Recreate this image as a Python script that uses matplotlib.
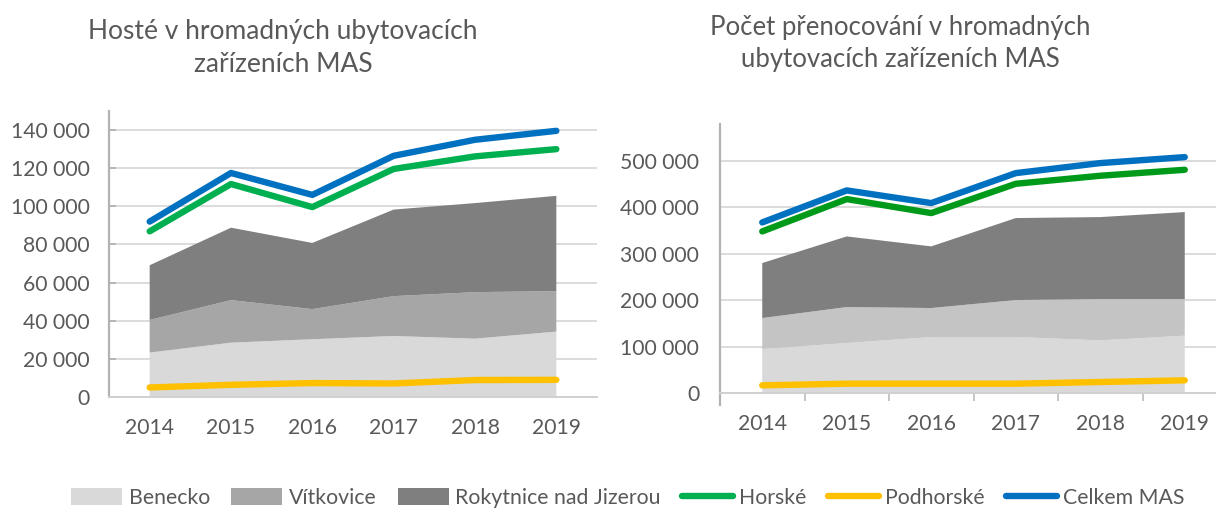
import numpy as np
import matplotlib.pyplot as plt
from matplotlib.ticker import FuncFormatter, FixedLocator
from matplotlib.patches import Patch
from matplotlib.lines import Line2D

plt.rcParams['font.family'] = ['Lato', 'DejaVu Sans']

years = ["2014", "2015", "2016", "2017", "2018", "2019"]

# Hosté (guests)
guests_benecko = [23300, 28500, 30300, 32000, 30600, 34300]
guests_vitkovice = [17100, 22300, 15800, 20900, 24400, 21200]
guests_rokytnice = [28700, 38000, 34700, 45400, 46700, 50000]
guests_horske = [86900, 111700, 99600, 119600, 126200, 130000]
guests_podhorske = [5000, 6400, 7300, 7100, 8900, 9000]
guests_celkem = [92000, 117500, 106000, 126500, 134900, 139600]

# Počet přenocování (overnight stays)
nights_benecko = [94800, 107800, 120700, 120700, 113500, 123600]
nights_vitkovice = [66800, 77500, 62500, 79700, 89100, 79000]
nights_rokytnice = [118600, 152300, 132900, 176800, 176700, 187500]
nights_horske = [348400, 418100, 387900, 451100, 468400, 481300]
nights_podhorske = [16500, 20100, 20100, 20100, 23700, 27300]
nights_celkem = [367800, 436800, 409500, 474100, 495700, 508600]

TXT = '#595959'
C_BEN = '#d9d9d9'
C_VIT = '#a6a6a6'
C_ROK = '#7f7f7f'
C_HOR = '#00b050'
C_POD = '#ffc000'
C_CEL = '#0070c0'

fmt = FuncFormatter(lambda v, p: f"{v:,.0f}".replace(",", " "))

W, H = 1216, 509
fig = plt.figure(figsize=(W / 100, H / 100), dpi=100)


def px_axes(x0, x1, y0, y1):
    return fig.add_axes([x0 / W, 1 - y1 / H, (x1 - x0) / W, (y1 - y0) / H])


def draw(ax, ben, vit, rok, hor, pod, cel, ymax, step, vit_col, hor_col):
    x = np.arange(len(years))
    ax.stackplot(x, ben, vit, rok, colors=[C_BEN, vit_col, C_ROK], lw=0, zorder=2)
    for vals, col in [(pod, C_POD), (hor, hor_col), (cel, C_CEL)]:
        ax.plot(x, vals, color=col, lw=4.6, solid_capstyle='round',
                solid_joinstyle='round', zorder=4)
    ax.set_xlim(-0.5, len(years) - 0.5)
    ax.set_ylim(0, ymax)
    ax.yaxis.set_major_locator(FixedLocator(np.arange(0, ymax, step)))
    ax.yaxis.set_major_formatter(fmt)
    ax.set_xticks(x)
    ax.set_xticklabels(years)
    ax.grid(axis='y', color='#d9d9d9', lw=1.3, zorder=0)
    ax.set_axisbelow(True)
    for s in ['top', 'right']:
        ax.spines[s].set_visible(False)
    ax.spines['left'].set_color('#b3b3b3')
    ax.spines['left'].set_linewidth(1.6)
    ax.spines['bottom'].set_color('#d0d0d0')
    ax.spines['bottom'].set_linewidth(1.4)
    ax.tick_params(axis='both', labelsize=15.2, labelcolor=TXT)
    ax.tick_params(axis='x', length=0, pad=15)
    ax.patch.set_alpha(0)


# left chart
ax1 = px_axes(109, 597, 111, 397)
draw(ax1, guests_benecko, guests_vitkovice, guests_rokytnice, guests_horske,
     guests_podhorske, guests_celkem, 150000, 20000, C_VIT, C_HOR)
ax1.tick_params(axis='y', direction='in', length=5, width=1.3, color='#b3b3b3', pad=14)

# right chart
ax2 = px_axes(720, 1227, 124, 393)
draw(ax2, nights_benecko, nights_vitkovice, nights_rokytnice, nights_horske,
     nights_podhorske, nights_celkem, 580000, 100000, '#c4c4c4', '#009a1a')
ax2.tick_params(axis='y', length=0, pad=15)
ax2.set_xticks(np.arange(-0.5, len(years), 1), minor=True)
ax2.tick_params(axis='x', which='minor', direction='out', length=6, width=1.3, color='#c0c0c0')
ax2.spines['left'].set_bounds(-25000, 580000)

fig.text(283 / W, 1 - 48 / H, "Hosté v hromadných ubytovacích\nzařízeních MAS",
         ha='center', va='center', fontsize=19, color=TXT, linespacing=1.35)
fig.text(900 / W, 1 - 43 / H, "Počet přenocování v hromadných\nubytovacích zařízeních MAS",
         ha='center', va='center', fontsize=18.5, color=TXT, linespacing=1.35)

handles = [
    Patch(facecolor=C_BEN, edgecolor='none', label='Benecko'),
    Patch(facecolor=C_VIT, edgecolor='none', label='Vítkovice'),
    Patch(facecolor=C_ROK, edgecolor='none', label='Rokytnice nad Jizerou'),
    Line2D([], [], color=C_HOR, lw=4.6, solid_capstyle='round', label='Horské'),
    Line2D([], [], color=C_POD, lw=4.6, solid_capstyle='round', label='Podhorské'),
    Line2D([], [], color=C_CEL, lw=4.6, solid_capstyle='round', label='Celkem MAS'),
]
fig.legend(handles=handles, loc='center', bbox_to_anchor=(628 / W, 1 - 498 / H),
           ncol=6, frameon=False, fontsize=15.3, labelcolor=TXT,
           handlelength=2.4, handleheight=0.8, handletextpad=0.3,
           columnspacing=1.0, borderaxespad=0)

fig.savefig('out.png', dpi=100)
